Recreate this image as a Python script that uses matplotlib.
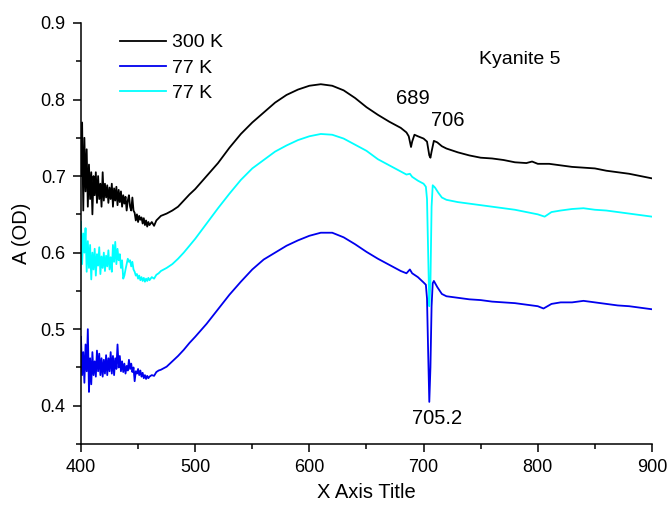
import numpy as np
import matplotlib.pyplot as plt
from matplotlib.ticker import MultipleLocator

plt.rcParams['font.family'] = ['Liberation Sans', 'DejaVu Sans']

# trecho ruidoso 400-460 nm (passo 1 nm), depois trecho suave
x_noisy = list(range(400, 461))
x_smooth = [462, 464, 466, 468, 470, 475, 480, 485, 490, 495, 500, 510, 520, 530, 540,
            550, 560, 570, 580, 590, 600, 610, 620, 630, 640, 650, 660, 670, 680]

# 300 K
k300_noisy = [0.700, 0.770, 0.655, 0.750, 0.680, 0.735, 0.660, 0.715, 0.670, 0.705,
              0.650, 0.700, 0.675, 0.705, 0.665, 0.700, 0.670, 0.690, 0.660, 0.705,
              0.668, 0.690, 0.672, 0.688, 0.665, 0.685, 0.670, 0.690, 0.660, 0.684,
              0.668, 0.686, 0.662, 0.682, 0.666, 0.680, 0.660, 0.675, 0.664, 0.673,
              0.655, 0.668, 0.675, 0.660, 0.655, 0.672, 0.655, 0.652, 0.642, 0.650,
              0.640, 0.648, 0.643, 0.646, 0.638, 0.645, 0.636, 0.642, 0.634, 0.640,
              0.636]
k300_smooth = [0.640, 0.635, 0.642, 0.645, 0.648, 0.651, 0.655, 0.660, 0.668, 0.676,
               0.683, 0.700, 0.717, 0.737, 0.755, 0.770, 0.783, 0.796, 0.806, 0.813,
               0.818, 0.820, 0.818, 0.812, 0.802, 0.790, 0.780, 0.771, 0.763]
k300_tail_x = [685, 687, 689, 690, 692, 695, 700, 703, 705, 706, 707, 709, 712, 716, 720,
               730, 740, 750, 760, 770, 780, 790, 795, 800, 810, 820, 830, 840, 850,
               860, 870, 880, 890, 900]
k300_tail = [0.757, 0.752, 0.738, 0.745, 0.754, 0.752, 0.749, 0.745, 0.727, 0.724, 0.732,
             0.746, 0.744, 0.739, 0.736, 0.731, 0.727, 0.724, 0.723, 0.721, 0.718, 0.717,
             0.719, 0.716, 0.716, 0.714, 0.712, 0.711, 0.710, 0.707, 0.705, 0.703, 0.700,
             0.697]

# 77 K (azul)
k77b_noisy = [0.490, 0.440, 0.470, 0.430, 0.480, 0.445, 0.500, 0.418, 0.462, 0.428,
              0.470, 0.440, 0.458, 0.438, 0.472, 0.445, 0.468, 0.440, 0.462, 0.438,
              0.460, 0.442, 0.466, 0.440, 0.462, 0.445, 0.470, 0.442, 0.465, 0.440,
              0.462, 0.448, 0.480, 0.450, 0.465, 0.445, 0.458, 0.444, 0.455, 0.442,
              0.452, 0.446, 0.460, 0.448, 0.455, 0.444, 0.450, 0.432, 0.445, 0.442,
              0.448, 0.440, 0.446, 0.438, 0.443, 0.436, 0.440, 0.435, 0.439, 0.436,
              0.438]
k77b_smooth = [0.440, 0.439, 0.444, 0.446, 0.447, 0.451, 0.458, 0.465, 0.473, 0.482,
               0.490, 0.507, 0.526, 0.545, 0.562, 0.578, 0.591, 0.600, 0.609, 0.616,
               0.622, 0.626, 0.626, 0.620, 0.611, 0.601, 0.592, 0.584, 0.576]
k77b_tail_x = [685, 688, 690, 695, 700, 702, 703, 704, 705, 706, 707, 708, 709, 712, 716,
               720, 730, 740, 750, 760, 770, 780, 790, 800, 805, 812, 820, 830, 840, 850,
               860, 870, 880, 890, 900]
k77b_tail = [0.573, 0.578, 0.573, 0.568, 0.561, 0.558, 0.540, 0.470, 0.405, 0.450, 0.530,
             0.560, 0.563, 0.555, 0.546, 0.543, 0.541, 0.539, 0.538, 0.536, 0.535, 0.534,
             0.532, 0.530, 0.527, 0.533, 0.535, 0.535, 0.537, 0.535, 0.533, 0.531, 0.530,
             0.528, 0.526]

# 77 K (ciano)
k77c_noisy = [0.640, 0.585, 0.625, 0.600, 0.632, 0.575, 0.615, 0.580, 0.610, 0.565,
              0.600, 0.578, 0.605, 0.570, 0.598, 0.583, 0.607, 0.572, 0.595, 0.580,
              0.600, 0.576, 0.596, 0.582, 0.603, 0.578, 0.594, 0.575, 0.610, 0.588,
              0.614, 0.585, 0.605, 0.590, 0.598, 0.580, 0.590, 0.566, 0.570, 0.578,
              0.585, 0.592, 0.588, 0.590, 0.582, 0.588, 0.578, 0.575, 0.570, 0.572,
              0.566, 0.570, 0.564, 0.568, 0.563, 0.567, 0.562, 0.566, 0.563, 0.567,
              0.564]
k77c_smooth = [0.568, 0.566, 0.571, 0.573, 0.576, 0.580, 0.585, 0.592, 0.600, 0.609,
               0.618, 0.638, 0.658, 0.677, 0.695, 0.710, 0.721, 0.732, 0.740, 0.747,
               0.752, 0.755, 0.754, 0.749, 0.741, 0.733, 0.722, 0.714, 0.706]
k77c_tail_x = [685, 688, 690, 695, 700, 702, 703, 704, 705, 706, 707, 708, 710, 713, 716,
               720, 730, 740, 750, 760, 770, 780, 790, 800, 806, 812, 820, 830, 840, 850,
               860, 870, 880, 890, 900]
k77c_tail = [0.702, 0.703, 0.699, 0.694, 0.690, 0.686, 0.670, 0.600, 0.530, 0.560, 0.660,
             0.688, 0.685, 0.678, 0.672, 0.669, 0.666, 0.664, 0.662, 0.660, 0.658, 0.656,
             0.653, 0.650, 0.647, 0.653, 0.655, 0.657, 0.658, 0.656, 0.655, 0.653, 0.651,
             0.649, 0.647]

x300 = x_noisy + x_smooth + k300_tail_x
y300 = k300_noisy + k300_smooth + k300_tail
x77b = x_noisy + x_smooth + k77b_tail_x
y77b = k77b_noisy + k77b_smooth + k77b_tail
x77c = x_noisy + x_smooth + k77c_tail_x
y77c = k77c_noisy + k77c_smooth + k77c_tail

fig = plt.figure(figsize=(6.67, 5.05), dpi=100)
ax = fig.add_axes([0.1214, 0.1208, 0.8561, 0.8337])

ax.plot(x300, y300, color='black', lw=1.3, label='300 K')
ax.plot(x77b, y77b, color='#0000ee', lw=1.3, label='77 K')
ax.plot(x77c, y77c, color='cyan', lw=1.3, label='77 K')

ax.set_xlim(400, 900)
ax.set_ylim(0.35, 0.9)
ax.xaxis.set_major_locator(MultipleLocator(100))
ax.xaxis.set_minor_locator(MultipleLocator(50))
ax.yaxis.set_major_locator(MultipleLocator(0.1))
ax.yaxis.set_minor_locator(MultipleLocator(0.05))
ax.set_yticks([0.4, 0.5, 0.6, 0.7, 0.8, 0.9])
ax.tick_params(which='major', direction='out', length=6, width=1.1, labelsize=13, pad=5)
ax.tick_params(which='minor', direction='out', length=3.5, width=1.1)
for s in ['top', 'right']:
    ax.spines[s].set_visible(False)
for s in ['left', 'bottom']:
    ax.spines[s].set_linewidth(1.1)

ax.set_xlabel('X Axis Title', fontsize=14.5, labelpad=5)
ax.set_ylabel('A (OD)', fontsize=14.5, labelpad=7)

ax.text(784, 0.852, 'Kyanite 5', fontsize=14, ha='center', va='center')
ax.text(691, 0.801, '689', fontsize=14.5, ha='center', va='center')
ax.text(721, 0.773, '706', fontsize=14.5, ha='center', va='center')
ax.text(712, 0.383, '705.2', fontsize=14.5, ha='center', va='center')

ax.legend(loc='upper left', bbox_to_anchor=(0.054, 0.993), frameon=False, fontsize=14,
          handlelength=2.4, handletextpad=0.3, labelspacing=0.4, borderaxespad=0)

fig.savefig('out.png', dpi=100)
